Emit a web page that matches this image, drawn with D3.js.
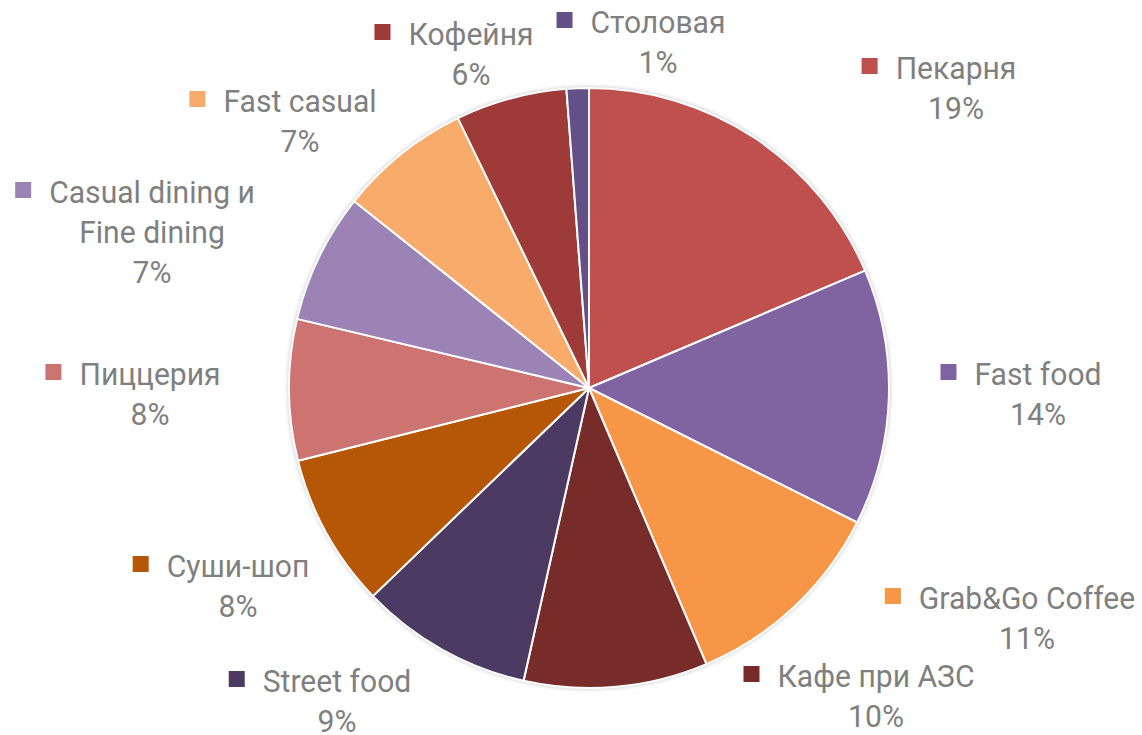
<!DOCTYPE html>
<html>
<head>
<meta charset="utf-8">
<script src="https://cdn.jsdelivr.net/npm/d3@7"></script>
<style>
  html, body { margin: 0; padding: 0; background: #fff; }
  svg { display: block; font-family: Roboto, "Noto Sans", sans-serif; }
</style>
</head>
<body>
<div id="chart"></div>
<script>
// categories, clockwise from 12 o'clock
var categories = ["Пекарня", "Fast food", "Grab&Go Coffee", "Кафе при АЗС", "Street food",
                  "Суши-шоп", "Пиццерия", "Casual dining и\nFine dining", "Fast casual", "Кофейня", "Столовая"];
var shares = [18.6, 13.8, 11.2, 9.9, 9.3, 8.3, 7.6, 7.0, 7.1, 6.0, 1.2];
var colors = ["#C0504D", "#8064A2", "#F79646", "#772C2A", "#4D3A62",
              "#B65708", "#CD7371", "#9B83B5", "#F9AB6B", "#9E3A37", "#654F87"];

// where each data label sits (text centre, first baseline), relative to pie centre
var labelOffsets = [[367, -309], [449, -3], [438, 221], [287, 299], [-252, 304],
                    [-351, 189], [-439, -3], [-437, -185], [-289, -276], [-118, -343], [69, -355]];

var width = 1142, height = 735;
var cx = 589, cy = 388, radius = 300;
var fontSize = 32, lineH = 40, squeeze = 0.94;

var svg = d3.select("#chart").append("svg")
    .attr("width", width)
    .attr("height", height);

var defs = svg.append("defs");
var shadow = defs.append("filter").attr("id", "shadow")
    .attr("x", "-10%").attr("y", "-10%").attr("width", "120%").attr("height", "120%");
shadow.append("feDropShadow")
    .attr("dx", 0).attr("dy", 0)
    .attr("stdDeviation", 2.5)
    .attr("flood-color", "#000")
    .attr("flood-opacity", 0.35);

var data = categories.map(function(c, i) {
  return { name: c, value: shares[i], color: colors[i] };
});
var total = d3.sum(shares);

var pie = d3.pie().sort(null).value(function(d) { return d.value; });
var arc = d3.arc().innerRadius(0).outerRadius(radius);

var g = svg.append("g").attr("transform", "translate(" + cx + "," + cy + ")");

g.append("circle")
    .attr("r", radius)
    .attr("fill", "#fff")
    .attr("filter", "url(#shadow)");

g.selectAll("path.slice")
    .data(pie(data))
  .enter().append("path")
    .attr("class", "slice")
    .attr("d", arc)
    .attr("fill", function(d) { return d.data.color; })
    .attr("stroke", "#fff")
    .attr("stroke-width", 2)
    .attr("stroke-linejoin", "round");

// data labels
var labels = g.selectAll("g.label")
    .data(data)
  .enter().append("g")
    .attr("class", "label")
    .attr("transform", function(d, i) {
      return "translate(" + labelOffsets[i][0] + "," + labelOffsets[i][1] + ")";
    });

labels.each(function(d) {
  var lab = d3.select(this);
  var inner = lab.append("g").attr("transform", "scale(" + squeeze + ",1)");
  var lines = d.name.split("\n");
  lines.push(Math.round(d.value / total * 100) + "%");
  var texts = inner.selectAll("text")
      .data(lines)
    .enter().append("text")
      .attr("x", 0)
      .attr("y", function(t, j) { return j * lineH; })
      .attr("text-anchor", "middle")
      .attr("font-size", fontSize)
      .attr("fill", "#7F7F7F")
      .text(function(t) { return t; });
  var w = texts.node().getComputedTextLength() * squeeze;
  lab.append("rect")
      .attr("x", -w / 2 - 18 - 16)
      .attr("y", -21)
      .attr("width", 16)
      .attr("height", 16)
      .attr("fill", d.color);
});
</script>
</body>
</html>
